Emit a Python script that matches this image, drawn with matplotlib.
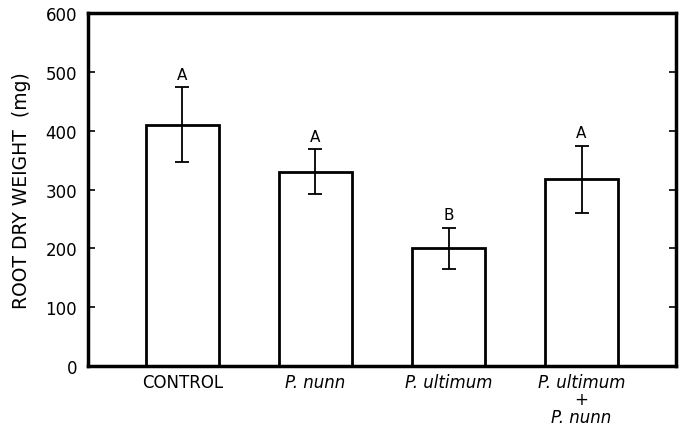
import numpy as np
from matplotlib import pyplot as plt

treatments = ["CONTROL", "P. nunn", "P. ultimum", "P. ultimum\n+\nP. nunn"]
italic = [False, True, True, True]
weights = [410, 330, 200, 317]
errors = [64, 38, 35, 57]
letters = ["A", "A", "B", "A"]

plt.rcParams['font.family'] = ['DejaVu Sans']

fig = plt.figure(figsize=(6.84, 4.31), dpi=100)
ax = fig.add_axes([88/684, 64/431, 588/684, 353/431])

x = np.arange(len(weights))
ax.bar(x, weights, width=0.555, color='white', edgecolor='black', linewidth=2)
ax.errorbar(x, weights, yerr=errors, fmt='none', ecolor='black',
            elinewidth=1.3, capsize=5, capthick=1.3)

for xi, w, e, let in zip(x, weights, errors, letters):
    ax.annotate(let, (xi, w + e), xytext=(0, 4), textcoords='offset points',
                ha='center', va='bottom', fontsize=11)

ax.set_xlim(-0.71, 3.71)
ax.set_ylim(0, 600)
ax.set_yticks(range(0, 601, 100))
ax.tick_params(axis='y', direction='in', length=5, width=1.2, labelsize=12,
               right=True, pad=8)
ax.tick_params(axis='x', length=0, pad=5)
ax.set_xticks(x)
ax.set_xticklabels(treatments, fontsize=12, linespacing=0.95)
for lab, it in zip(ax.get_xticklabels(), italic):
    if it:
        lab.set_style('italic')

for sp in ax.spines.values():
    sp.set_linewidth(2.5)

ax.set_ylabel("ROOT DRY WEIGHT  (mg)", fontsize=13.5, labelpad=10)

fig.savefig("out.png", dpi=100)
